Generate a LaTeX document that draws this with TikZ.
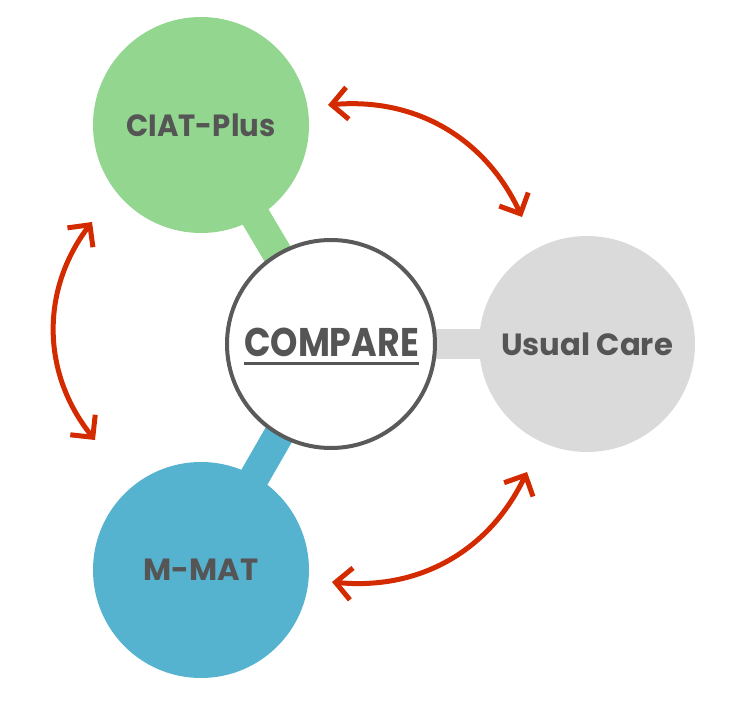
\documentclass[tikz,border=0pt]{standalone}
\usepackage{fontspec}
\setmainfont{Poppins}
\usetikzlibrary{arrows.meta,backgrounds}
\definecolor{cgreen}{HTML}{93D68F}
\definecolor{cblue}{HTML}{56B3CF}
\definecolor{cgray}{HTML}{DADADA}
\definecolor{txtgray}{HTML}{555555}
\definecolor{ringgray}{HTML}{5A5A5A}
\definecolor{cred}{HTML}{D42A00}
\begin{document}
\begin{tikzpicture}[x=0.75pt,y=-0.75pt,
  bubble/.style={circle, minimum size=162pt, inner sep=0pt, text=txtgray,
    font=\bfseries\fontsize{23}{27}\selectfont},
  link/.style={line width=22.5pt},
  swaparrow/.style={draw=cred, line width=3.75pt,
    {Straight Barb[length=12pt,width=24pt]}-{Straight Barb[length=12pt,width=24pt]}}
]
\useasboundingbox (0,0) rectangle (729,702);
\node[bubble, fill=cgreen] (ciat) at (201,125) {\scalebox{0.95}[1]{CIAT-Plus}};
\node[bubble, fill=cgray] (usual) at (587,344) {Usual Care};
\node[bubble, fill=cblue] (mmat) at (201,570) {M-MAT};
\node[circle, minimum size=156pt, inner sep=0pt, fill=white, draw=ringgray, line width=3pt] (cmp) at (331,344) {};
\node[inner sep=0pt, text=txtgray, font=\bfseries\fontsize{30}{34}\selectfont, anchor=base] (cmptxt) at (331.5,357) {\scalebox{0.87}[1]{COMPARE}};
\draw[txtgray, line width=2.25pt] ([yshift=-5.25pt]cmptxt.base west) -- ([yshift=-5.25pt]cmptxt.base east);
\begin{scope}[on background layer]
\draw[link, cgreen] (cmp.center) -- (ciat.center);
\draw[link, cgray] (cmp.center) -- (usual.center);
\draw[link, cblue] (cmp.center) -- (mmat.center);
\end{scope}
\coordinate (a1s) at (328,105);
\coordinate (a1e) at (522,217);
\coordinate (a2s) at (92,222);
\coordinate (a2e) at (95,440);
\coordinate (a3s) at (332,582);
\coordinate (a3e) at (527,472);
\draw[swaparrow] (a1s) to[bend left=35] (a1e);
\draw[swaparrow] (a2s) to[bend right=38] (a2e);
\draw[swaparrow] (a3s) to[bend right=35] (a3e);
\end{tikzpicture}
\end{document}
